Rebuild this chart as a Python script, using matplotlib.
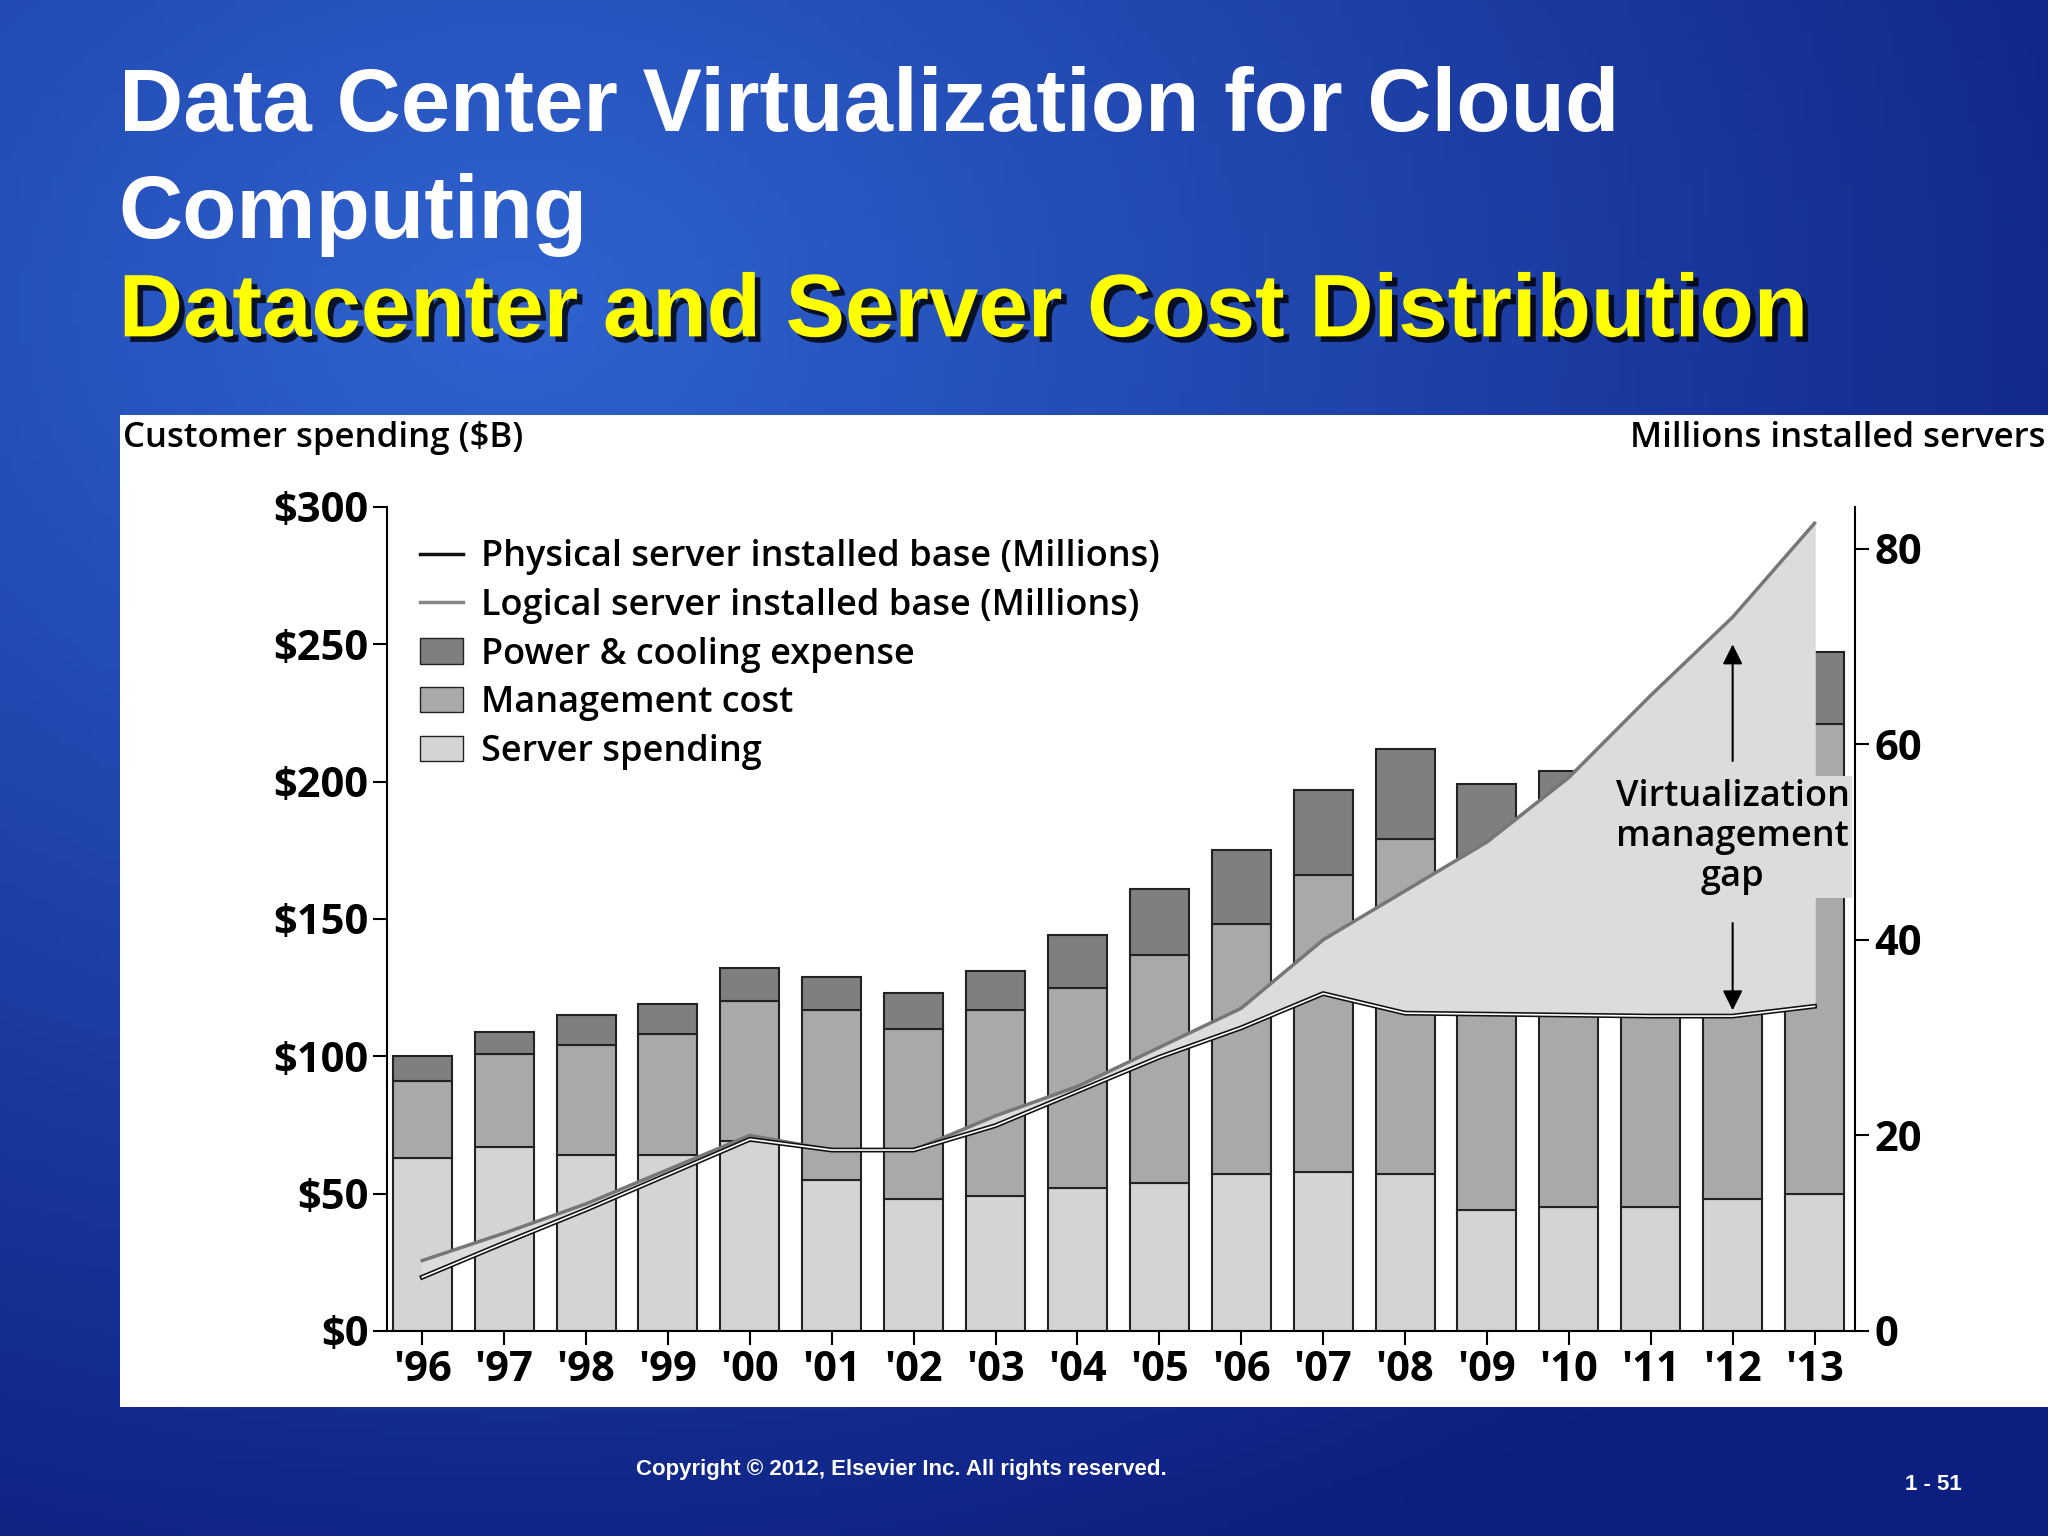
import matplotlib
matplotlib.use("Agg")
import matplotlib.pyplot as plt
import matplotlib.patheffects as pe
from matplotlib.patches import Rectangle
from matplotlib.lines import Line2D
import numpy as np

# Données
annees = ["'96", "'97", "'98", "'99", "'00", "'01", "'02", "'03", "'04",
          "'05", "'06", "'07", "'08", "'09", "'10", "'11", "'12", "'13"]
serveurs = [63, 67, 64, 64, 69, 55, 48, 49, 52, 54, 57, 58, 57, 44, 45, 45, 48, 50]
gestion_haut = [91, 101, 104, 108, 120, 117, 110, 117, 125, 137, 148, 166, 179, 168, 172, 176, 193, 221]
total = [100, 109, 115, 119, 132, 129, 123, 131, 144, 161, 175, 197, 212, 199, 204, 208, 225, 247]
physiques = [5.5, 9, 12.4, 16, 19.6, 18.5, 18.5, 21, 24.5, 28, 31, 35, 38, 38.5, 38.3, 38, 38, 39]
logiques = [7.2, 10, 13, 16.5, 20, 18.5, 18.5, 22, 25, 29, 33, 40, 45, 50, 56.6, 65, 73, 82.6]
# les valeurs physiques suivent la courbe noire (axe de droite, millions)
physiques = [5.5, 9, 12.4, 16, 19.6, 18.5, 18.5, 21, 24.5, 28, 31, 34.5, 32.5, 32.4, 32.3, 32.2, 32.2, 33.2]

FONT = "Open Sans"

fig = plt.figure(figsize=(20.48, 15.36), dpi=100)

# fond bleu en dégradé
bg = fig.add_axes([0, 0, 1, 1])
yy, xx = np.mgrid[0:1:200j, 0:1:200j]
r = np.sqrt((xx - 0.25) ** 2 + (yy - 0.2) ** 2)
img = np.zeros((200, 200, 3))
img[..., 0] = 0.05 + 0.15 * np.clip(0.9 - r, 0, 1)
img[..., 1] = 0.12 + 0.30 * np.clip(0.9 - r, 0, 1)
img[..., 2] = 0.50 + 0.35 * np.clip(0.9 - r, 0, 1)
bg.imshow(img, extent=[0, 1, 0, 1], aspect="auto")
bg.set_axis_off()

fig.text(0.058, 0.93, "Data Center Virtualization for Cloud", color="white",
         fontsize=64, fontweight="bold", family="Liberation Sans", va="center")
fig.text(0.058, 0.86, "Computing", color="white",
         fontsize=64, fontweight="bold", family="Liberation Sans", va="center")
fig.text(0.058, 0.796, "Datacenter and Server Cost Distribution", color="#ffff00",
         fontsize=64, fontweight="bold", family="Liberation Sans", va="center",
         path_effects=[pe.withSimplePatchShadow(offset=(4, -4), shadow_rgbFace="black", alpha=0.8)])
fig.text(0.44, 0.04, "Copyright © 2012, Elsevier Inc. All rights reserved.", color="white",
         fontsize=16, fontweight="bold", family="Liberation Sans", ha="center")
fig.text(0.93, 0.03, "1 - 51", color="white", fontsize=16, fontweight="bold",
         family="Liberation Sans")

# zone blanche du graphique
fig.patches.append(Rectangle((0.0587, 0.0842), 0.9413, 0.6454, transform=fig.transFigure,
                             facecolor="white", zorder=1))
fig.text(0.06, 0.715, "Customer spending ($B)", fontsize=25, fontweight="semibold",
         family=FONT, va="center", zorder=3)
fig.text(0.999, 0.715, "Millions installed servers", fontsize=25, fontweight="semibold",
         family=FONT, va="center", ha="right", zorder=3)

ax = fig.add_axes([0.189, 0.1335, 0.717, 0.5365])
ax.set_zorder(2)
ax.patch.set_alpha(0)
x = np.arange(len(annees))
w = 0.72
s = np.array(serveurs)
g = np.array(gestion_haut)
t = np.array(total)
ax.bar(x, s, w, color="#d4d4d4", edgecolor="#222222", linewidth=1.5)
ax.bar(x, g - s, w, bottom=s, color="#a9a9a9", edgecolor="#222222", linewidth=1.5)
ax.bar(x, t - g, w, bottom=g, color="#7f7f7f", edgecolor="#222222", linewidth=1.5)
ax.set_xlim(-0.43, 17.5)
ax.set_ylim(0, 300)
ax.set_xticks(x)
ax.set_xticklabels(annees)
ax.set_yticks([0, 50, 100, 150, 200, 250, 300])
ax.set_yticklabels(["$0", "$50", "$100", "$150", "$200", "$250", "$300"])
for sp in ["top", "right"]:
    ax.spines[sp].set_visible(False)
ax.spines["left"].set_linewidth(1.5)
ax.spines["bottom"].set_linewidth(1.5)
ax.tick_params(labelsize=30, width=1.5, length=10)
for lab in ax.get_xticklabels() + ax.get_yticklabels():
    lab.set_family(FONT)
    lab.set_fontweight("bold")

ax2 = ax.twinx()
ax2.set_ylim(0, 80 * 631 / 599)
ax2.set_yticks([0, 20, 40, 60, 80])
ax2.tick_params(labelsize=30, width=1.5, length=10)
for lab in ax2.get_yticklabels():
    lab.set_family(FONT)
    lab.set_fontweight("bold")
for sp in ["top", "left", "bottom"]:
    ax2.spines[sp].set_visible(False)
ax2.spines["right"].set_linewidth(1.5)
p = np.array(physiques)
lg = np.array(logiques)
ax2.fill_between(x, p, lg, color="#dcdcdc", zorder=3)
ax2.plot(x, lg, color="#777777", linewidth=2.5, zorder=4)
ax2.plot(x, p, color="#111111", linewidth=3.5, zorder=4)
ax2.plot(x, p, color="white", linewidth=1.2, zorder=4)
ax2.annotate("", xy=(16, 70.5), xytext=(16, 58), zorder=5,
             arrowprops=dict(arrowstyle="-|>", color="black", lw=1.5, mutation_scale=30))
ax2.annotate("", xy=(16, 32.5), xytext=(16, 42), zorder=5,
             arrowprops=dict(arrowstyle="-|>", color="black", lw=1.5, mutation_scale=30))
ax2.text(16, 50.5, "Virtualization\nmanagement\ngap", ha="center", va="center",
         fontsize=26, fontweight="semibold", family=FONT, linespacing=1.15, zorder=6,
         bbox=dict(facecolor="#dcdcdc", edgecolor="none", pad=2))

handles = [Line2D([], [], color="#111111", lw=2.5),
           Line2D([], [], color="#888888", lw=2.5),
           Rectangle((0, 0), 1, 1, facecolor="#7f7f7f", edgecolor="#222222"),
           Rectangle((0, 0), 1, 1, facecolor="#a9a9a9", edgecolor="#222222"),
           Rectangle((0, 0), 1, 1, facecolor="#d4d4d4", edgecolor="#222222")]
labels = ["Physical server installed base (Millions)", "Logical server installed base (Millions)",
          "Power & cooling expense", "Management cost", "Server spending"]
leg = ax2.legend(handles, labels, loc="upper left", bbox_to_anchor=(0.0, 1.0), frameon=False,
                 prop={"family": FONT, "size": 26, "weight": "semibold"},
                 handlelength=1.2, handletextpad=0.5, labelspacing=0.35)
leg.set_zorder(7)

fig.savefig("out.png", dpi=100)
